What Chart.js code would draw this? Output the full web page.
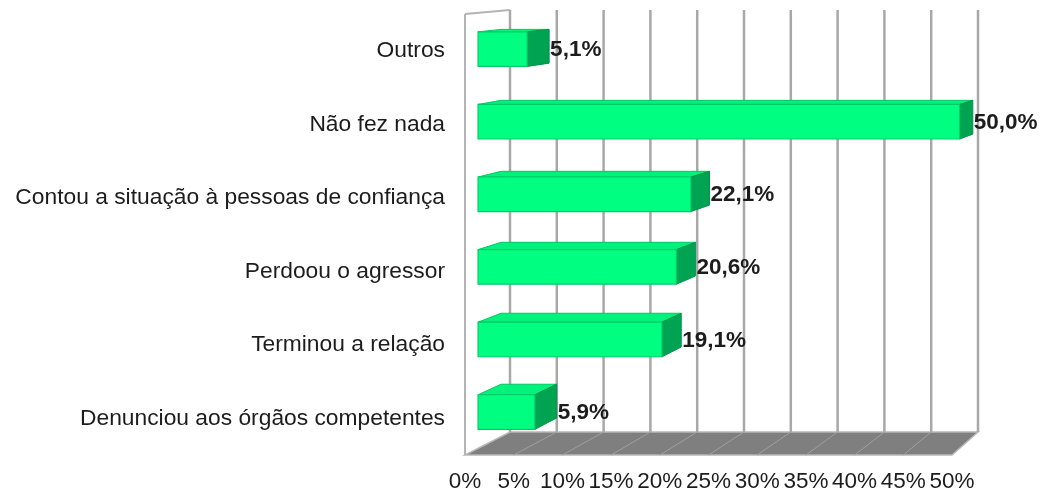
<!DOCTYPE html>
<html>
<head>
<meta charset="utf-8">
<script src="https://cdn.jsdelivr.net/npm/chart.js@4.4.1/dist/chart.umd.min.js"></script>
<style>
  html, body { margin: 0; padding: 0; background: #fff; }
</style>
</head>
<body>
<canvas id="chart" width="1042" height="498"></canvas>
<script>
const categories = [
    "Outros",
    "Não fez nada",
    "Contou a situação à pessoas de confiança",
    "Perdoou o agressor",
    "Terminou a relação",
    "Denunciou aos órgãos competentes"
];
const values = [5.1, 50.0, 22.1, 20.6, 19.1, 5.9];
const valueLabels = ["5,1%", "50,0%", "22,1%", "20,6%", "19,1%", "5,9%"];
const tickStep = 5;
const axisMax = 50;

const FONT = '"Liberation Sans", Arial, sans-serif';
const TEXT = '#1c1c1c';

// depth of the 3d box: offset at full depth, varies across the plot (fake perspective)
const DX_LEFT = 45, DX_RIGHT = 26;
const DY_TOP = -4, DY_BOTTOM = -23;
const BAR_FRONT = 0.29, BAR_BACK = 0.80;

function project(chart, X, Y, d) {
    const a = chart.chartArea;
    const dx = DX_LEFT + (DX_RIGHT - DX_LEFT) * (X - a.left) / (a.right - a.left);
    const dy = DY_TOP + (DY_BOTTOM - DY_TOP) * (Y - a.top) / (a.bottom - a.top);
    return [X + d * dx, Y + d * dy];
}

function poly(ctx, pts, fill, stroke, lw) {
    ctx.beginPath();
    ctx.moveTo(pts[0][0], pts[0][1]);
    for (let i = 1; i < pts.length; i++) ctx.lineTo(pts[i][0], pts[i][1]);
    ctx.closePath();
    if (fill) { ctx.fillStyle = fill; ctx.fill(); }
    if (stroke) { ctx.strokeStyle = stroke; ctx.lineWidth = lw || 1; ctx.stroke(); }
}

function line(ctx, p, q, color, lw) {
    ctx.beginPath();
    ctx.moveTo(p[0], p[1]);
    ctx.lineTo(q[0], q[1]);
    ctx.strokeStyle = color;
    ctx.lineWidth = lw;
    ctx.stroke();
}

const box3d = {
    id: 'box3d',
    beforeDatasetsDraw(chart) {
        const ctx = chart.ctx;
        const a = chart.chartArea;
        const xs = chart.scales.x;
        ctx.save();

        // floor
        const floor = [
            project(chart, a.left, a.bottom, 0),
            project(chart, a.right, a.bottom, 0),
            project(chart, a.right, a.bottom, 1),
            project(chart, a.left, a.bottom, 1)
        ];
        poly(ctx, floor, '#7f7f7f', '#b8b8b8', 1.5);
        for (let v = tickStep; v < axisMax; v += tickStep) {
            const X = xs.getPixelForValue(v);
            line(ctx, project(chart, X, a.bottom, 0), project(chart, X, a.bottom, 1), '#a0a0a0', 1);
        }

        // back wall grid lines
        for (let v = 0; v <= axisMax; v += tickStep) {
            const X = xs.getPixelForValue(v);
            line(ctx, project(chart, X, a.top, 1), project(chart, X, a.bottom, 1), '#a8a8a8', 2.5);
        }

        // left side wall edges
        line(ctx, project(chart, a.left, a.top, 0), project(chart, a.left, a.bottom, 0), '#b4b4b4', 2);
        line(ctx, project(chart, a.left, a.top, 0), project(chart, a.left, a.top, 1), '#b4b4b4', 2);

        ctx.restore();
    },
    afterDatasetsDraw(chart) {
        const ctx = chart.ctx;
        const meta = chart.getDatasetMeta(0);
        ctx.save();
        meta.data.forEach((el, i) => {
            const p = el.getProps(['x', 'y', 'base', 'height'], true);
            const x0 = p.base, x1 = p.x;
            const y0 = p.y - p.height / 2, y1 = p.y + p.height / 2;
            const f = (X, Y) => project(chart, X, Y, BAR_FRONT);
            const b = (X, Y) => project(chart, X, Y, BAR_BACK);

            // top face
            poly(ctx, [f(x0, y0), f(x1, y0), b(x1, y0), b(x0, y0)], '#00f27c', '#00c864', 1);
            // right face
            poly(ctx, [f(x1, y0), b(x1, y0), b(x1, y1), f(x1, y1)], '#00a352', '#00924a', 1);
            // front face
            poly(ctx, [f(x0, y0), f(x1, y0), f(x1, y1), f(x0, y1)], '#00ff80', '#00cc66', 1.2);

            // value label
            const lx = b(x1, y0)[0] + 1;
            const ly = f(x1, p.y)[1];
            ctx.font = 'bold 22.5px ' + FONT;
            ctx.fillStyle = TEXT;
            ctx.textAlign = 'left';
            ctx.textBaseline = 'middle';
            ctx.fillText(valueLabels[i], lx, ly + 1);
        });
        ctx.restore();
    }
};

new Chart(document.getElementById('chart'), {
    type: 'bar',
    data: {
        labels: categories,
        datasets: [{
            data: values,
            backgroundColor: 'rgba(0,0,0,0)',
            borderWidth: 0,
            barThickness: 35
        }]
    },
    options: {
        indexAxis: 'y',
        responsive: false,
        animation: false,
        devicePixelRatio: 1,
        layout: { padding: { top: 14, right: 90, left: 0, bottom: 0 } },
        plugins: {
            legend: { display: false },
            tooltip: { enabled: false }
        },
        scales: {
            x: {
                min: 0,
                max: axisMax,
                grid: { display: false, drawTicks: false },
                border: { display: false },
                ticks: {
                    stepSize: tickStep,
                    maxRotation: 0,
                    autoSkip: false,
                    padding: 13,
                    color: TEXT,
                    font: { family: FONT, size: 22.5 },
                    callback: v => v + '%'
                },
                afterFit: s => {
                    s.height = 43;
                    s.paddingLeft = 0; s.paddingRight = 0;
                }
            },
            y: {
                grid: { display: false, drawTicks: false },
                border: { display: false },
                ticks: {
                    padding: 20,
                    color: TEXT,
                    font: { family: FONT, size: 22.8 }
                },
                afterFit: s => {
                    s.width = 465;
                    s.paddingTop = 0; s.paddingBottom = 0;
                }
            }
        }
    },
    plugins: [box3d]
});
</script>
</body>
</html>
